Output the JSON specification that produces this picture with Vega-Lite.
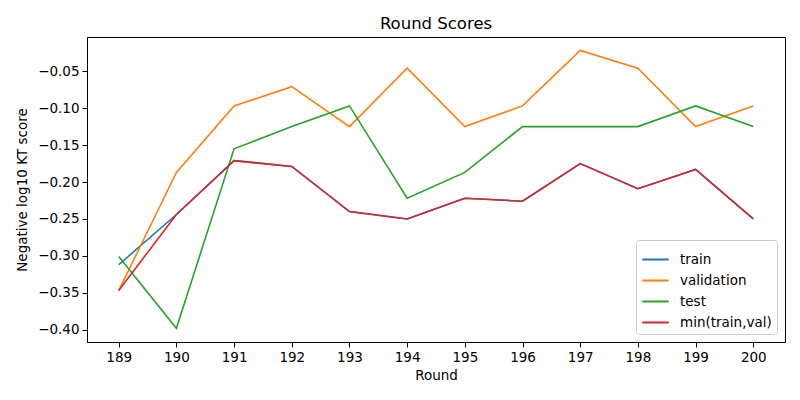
{
  "$schema": "https://vega.github.io/schema/vega-lite/v6.json",
  "width": 698,
  "height": 305,
  "autosize": {"type": "none"},
  "padding": {"left": 87, "top": 37, "right": 15, "bottom": 58},
  "background": "white",
  "title": {
    "text": "Round Scores",
    "font": "DejaVu Sans",
    "fontSize": 16.5,
    "fontWeight": "normal",
    "color": "black",
    "anchor": "middle",
    "offset": 5
  },
  "config": {
    "view": {"stroke": "black", "strokeWidth": 1},
    "axis": {
      "labelFont": "DejaVu Sans",
      "labelFontSize": 13.5,
      "labelColor": "black",
      "titleFont": "DejaVu Sans",
      "titleFontSize": 13.5,
      "titleFontWeight": "normal",
      "titleColor": "black",
      "domainColor": "black",
      "tickColor": "black",
      "tickSize": 5,
      "labelPadding": 3,
      "grid": false
    }
  },
  "data": {
    "values": [
      {"Round": 189, "series": "train", "score": -0.312},
      {"Round": 190, "series": "train", "score": -0.244},
      {"Round": 191, "series": "train", "score": -0.171},
      {"Round": 192, "series": "train", "score": -0.179},
      {"Round": 193, "series": "train", "score": -0.240},
      {"Round": 194, "series": "train", "score": -0.250},
      {"Round": 195, "series": "train", "score": -0.222},
      {"Round": 196, "series": "train", "score": -0.226},
      {"Round": 197, "series": "train", "score": -0.175},
      {"Round": 198, "series": "train", "score": -0.209},
      {"Round": 199, "series": "train", "score": -0.183},
      {"Round": 200, "series": "train", "score": -0.250},
      {"Round": 189, "series": "validation", "score": -0.347},
      {"Round": 190, "series": "validation", "score": -0.187},
      {"Round": 191, "series": "validation", "score": -0.097},
      {"Round": 192, "series": "validation", "score": -0.071},
      {"Round": 193, "series": "validation", "score": -0.125},
      {"Round": 194, "series": "validation", "score": -0.046},
      {"Round": 195, "series": "validation", "score": -0.125},
      {"Round": 196, "series": "validation", "score": -0.097},
      {"Round": 197, "series": "validation", "score": -0.022},
      {"Round": 198, "series": "validation", "score": -0.046},
      {"Round": 199, "series": "validation", "score": -0.125},
      {"Round": 200, "series": "validation", "score": -0.097},
      {"Round": 189, "series": "test", "score": -0.301},
      {"Round": 190, "series": "test", "score": -0.398},
      {"Round": 191, "series": "test", "score": -0.155},
      {"Round": 192, "series": "test", "score": -0.125},
      {"Round": 193, "series": "test", "score": -0.097},
      {"Round": 194, "series": "test", "score": -0.222},
      {"Round": 195, "series": "test", "score": -0.187},
      {"Round": 196, "series": "test", "score": -0.125},
      {"Round": 197, "series": "test", "score": -0.125},
      {"Round": 198, "series": "test", "score": -0.125},
      {"Round": 199, "series": "test", "score": -0.097},
      {"Round": 200, "series": "test", "score": -0.125},
      {"Round": 189, "series": "min(train,val)", "score": -0.347},
      {"Round": 190, "series": "min(train,val)", "score": -0.244},
      {"Round": 191, "series": "min(train,val)", "score": -0.171},
      {"Round": 192, "series": "min(train,val)", "score": -0.179},
      {"Round": 193, "series": "min(train,val)", "score": -0.240},
      {"Round": 194, "series": "min(train,val)", "score": -0.250},
      {"Round": 195, "series": "min(train,val)", "score": -0.222},
      {"Round": 196, "series": "min(train,val)", "score": -0.226},
      {"Round": 197, "series": "min(train,val)", "score": -0.175},
      {"Round": 198, "series": "min(train,val)", "score": -0.209},
      {"Round": 199, "series": "min(train,val)", "score": -0.183},
      {"Round": 200, "series": "min(train,val)", "score": -0.250}
    ]
  },
  "mark": {"type": "line", "strokeWidth": 1.6, "clip": true},
  "encoding": {
    "x": {
      "field": "Round",
      "type": "quantitative",
      "title": "Round",
      "scale": {"domain": [188.45, 200.55], "nice": false, "zero": false},
      "axis": {
        "values": [189, 190, 191, 192, 193, 194, 195, 196, 197, 198, 199, 200],
        "format": "d",
        "titlePadding": 5
      }
    },
    "y": {
      "field": "score",
      "type": "quantitative",
      "title": "Negative log10 KT score",
      "scale": {"domain": [-0.4166, -0.0037], "nice": false, "zero": false},
      "axis": {
        "values": [-0.40, -0.35, -0.30, -0.25, -0.20, -0.15, -0.10, -0.05],
        "format": ".2f",
        "titlePadding": 8
      }
    },
    "color": {
      "field": "series",
      "type": "nominal",
      "sort": ["train", "validation", "test", "min(train,val)"],
      "scale": {
        "domain": ["train", "validation", "test", "min(train,val)"],
        "range": ["#1f77b4", "#ff7f0e", "#2ca02c", "#d62728"]
      },
      "legend": {
        "title": null,
        "orient": "bottom-right",
        "offset": 8,
        "padding": 5,
        "strokeColor": "#cccccc",
        "fillColor": "white",
        "cornerRadius": 3,
        "symbolType": "stroke",
        "symbolSize": 700,
        "symbolStrokeWidth": 2,
        "labelFont": "DejaVu Sans",
        "labelFontSize": 13.5,
        "labelColor": "black",
        "labelOffset": 10,
        "rowPadding": 0
      }
    },
    "order": {"field": "series", "type": "nominal"}
  }
}
